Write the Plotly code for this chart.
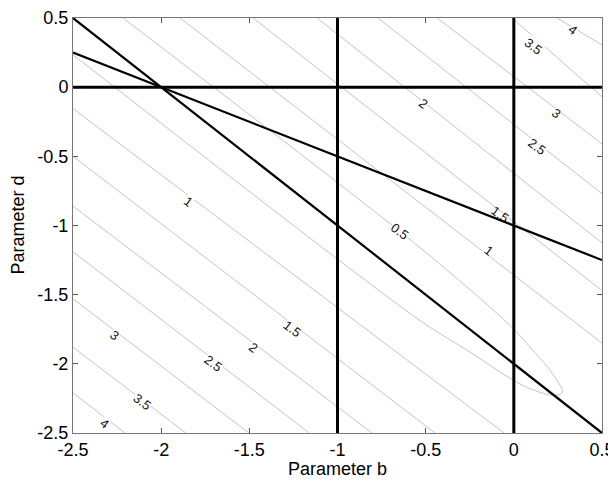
import plotly.graph_objects as go

# ---- data ----
# contour levels below/left of the valley: left-edge d and bottom-edge b
lower_levels = [1, 1.5, 2, 2.5, 3, 3.5, 4]
lower_left_d = [-0.155, -0.5, -0.86, -1.19, -1.53, -1.88, -2.21]
lower_bottom_b = [-0.055, -0.447, -0.804, -1.16, -1.503, -1.86, -2.205]

# contour levels above/right of the valley: top-edge b and right-edge d
upper_levels = [1, 1.5, 2, 2.5, 3, 3.5, 4]
upper_top_b = [-1.893, -1.479, -1.116, -0.77, -0.435, -0.01, 0.245]
upper_right_d = [-1.85, -1.47, -1.126, -0.77, -0.41, -0.07, 0.305]

# level 0.5 contour: U-shaped curve closing near b = 0.28
loop_b = [-2.216, -0.532, -0.021, 0.092, 0.206, 0.250, 0.272, 0.276, 0.262,
          0.206, 0.092, -0.003, -0.248, -0.532, -2.5]
loop_d = [0.5, -1.160, -1.723, -1.879, -2.047, -2.130, -2.180, -2.205, -2.222,
          -2.225, -2.180, -2.119, -1.915, -1.687, 0.234]

# contour labels
label_text = ["4", "3.5", "3", "2.5", "2", "1.5", "1", "0.5",
              "1", "1.5", "2", "2.5", "3", "3.5", "4"]
label_b = [0.330, 0.111, 0.244, 0.130, -0.513, -0.078, -0.144, -0.645,
           -1.846, -1.260, -1.477, -1.704, -2.262, -2.110, -2.322]
label_d = [0.414, 0.291, -0.188, -0.428, -0.116, -0.919, -1.183, -1.040,
           -0.824, -1.747, -1.879, -1.999, -1.795, -2.275, -2.432]

# black boundary lines
hline_d = [0.0]
vline_b = [-1.0, 0.0]
diag1_b = [-2.5, 0.5]
diag1_d = [0.5, -2.5]
diag2_b = [-2.5, 0.5]
diag2_d = [0.25, -1.25]

ticks = [-2.5, -2, -1.5, -1, -0.5, 0, 0.5]
tick_text = ["-2.5", "-2", "-1.5", "-1", "-0.5", "0", "0.5"]

B_MIN, B_MAX = -2.5, 0.5
D_MIN, D_MAX = -2.5, 0.5

FONT = "Liberation Sans, Arial, sans-serif"
GRAY = "#c4c4c4"
fig = go.Figure()

# gray contour lines
for dl, bb in zip(lower_left_d, lower_bottom_b):
    fig.add_trace(go.Scatter(x=[B_MIN, bb], y=[dl, D_MIN], mode="lines",
                             line=dict(color=GRAY, width=1), hoverinfo="skip"))
for bt, dr in zip(upper_top_b, upper_right_d):
    fig.add_trace(go.Scatter(x=[bt, B_MAX], y=[D_MAX, dr], mode="lines",
                             line=dict(color=GRAY, width=1), hoverinfo="skip"))
fig.add_trace(go.Scatter(x=loop_b, y=loop_d, mode="lines",
                         line=dict(color=GRAY, width=1, shape="spline", smoothing=0.8),
                         hoverinfo="skip"))

# contour labels (white box breaks the gray line like clabel does)
for i, (t, bx, dy) in enumerate(zip(label_text, label_b, label_d)):
    near_black = (i == 5)
    fig.add_annotation(x=bx, y=dy, text=t, showarrow=False, textangle=37,
                       font=dict(family=FONT, size=13, color="#111111"),
                       bgcolor="rgba(0,0,0,0)" if near_black else "white",
                       borderpad=0)

# black lines (drawn as shapes above the labels)
for d0 in hline_d:
    fig.add_shape(type="line", x0=B_MIN, x1=B_MAX, y0=d0, y1=d0,
                  line=dict(color="black", width=3), layer="above")
for b0 in vline_b:
    fig.add_shape(type="line", x0=b0, x1=b0, y0=D_MIN, y1=D_MAX,
                  line=dict(color="black", width=3), layer="above")
fig.add_shape(type="line", x0=diag1_b[0], x1=diag1_b[1], y0=diag1_d[0], y1=diag1_d[1],
              line=dict(color="black", width=2.2), layer="above")
fig.add_shape(type="line", x0=diag2_b[0], x1=diag2_b[1], y0=diag2_d[0], y1=diag2_d[1],
              line=dict(color="black", width=2.2), layer="above")

# axis titles
fig.add_annotation(text="Parameter b", xref="paper", yref="paper", x=0.5, y=0,
                   xanchor="center", yanchor="middle", yshift=-36, showarrow=False,
                   font=dict(family=FONT, size=18, color="black"))
fig.add_annotation(text="Parameter d", xref="paper", yref="paper", x=0, y=0.5,
                   xanchor="center", yanchor="middle", xshift=-56, textangle=-90,
                   showarrow=False, font=dict(family=FONT, size=18, color="black"))

axis_common = dict(
    tickmode="array", tickvals=ticks, ticktext=tick_text,
    ticks="inside", ticklen=5, tickcolor="#555555",
    showline=True, linecolor="#777777", linewidth=1, mirror="ticks",
    showgrid=False, zeroline=False, automargin=False,
    ticklabeloverflow="allow",
    tickfont=dict(family=FONT, size=18, color="black"),
)

fig.update_layout(
    width=616, height=481,
    margin=dict(l=65, r=22, t=10, b=56),
    paper_bgcolor="white", plot_bgcolor="white",
    showlegend=False,
    font=dict(family=FONT, size=18, color="black"),
    xaxis=dict(range=[B_MIN, B_MAX], **axis_common),
    yaxis=dict(range=[D_MIN, D_MAX], **axis_common),
)

fig.write_html("out.html")
